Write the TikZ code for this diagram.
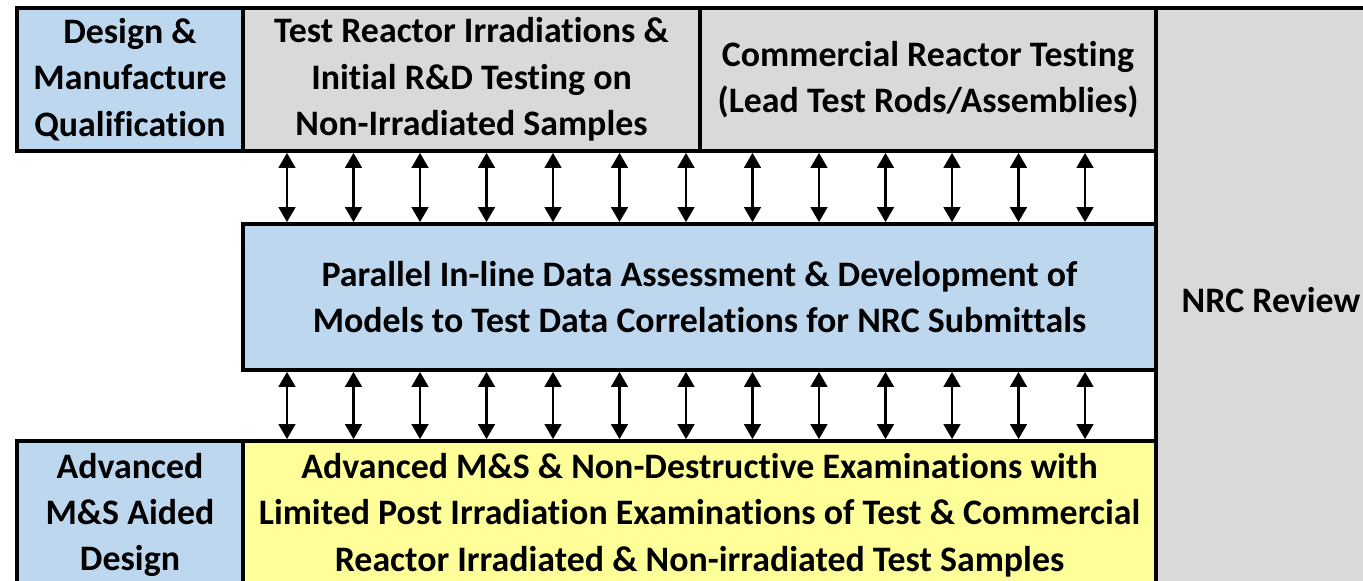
\documentclass[tikz,border=0pt]{standalone}
\usepackage{fontspec}
\setmainfont{Carlito}[Ligatures=NoCommon]
\usetikzlibrary{arrows.meta}
\definecolor{boxblue}{HTML}{BDD7EE}
\definecolor{boxgray}{HTML}{D9D9D9}
\definecolor{boxyellow}{HTML}{FFFF99}

\begin{document}
\begin{tikzpicture}[x=0.75pt,y=-0.75pt,
  box/.style={draw,line width=2.8pt,anchor=north west,outer sep=0pt,inner sep=0pt,align=center,font=\fontsize{26.9}{34.8}\selectfont\bfseries},
  link/.style={line width=2pt,shorten >=1.4pt,shorten <=1.4pt,{Triangle[width=12.5pt,length=11.3pt]}-{Triangle[width=12.5pt,length=11.3pt]}}]
\useasboundingbox (0,0) rectangle (1363,581);

\node[box,fill=boxblue,minimum width=169.5pt,minimum height=107.25pt] (design) at (17,8) {Design \&\\Manufacture\\Qualification};
\node[box,fill=boxgray,minimum width=342.75pt,minimum height=107.25pt] (testr) at (design.north east) {Test Reactor Irradiations \&\\Initial R\&D Testing on\\Non-Irradiated Samples};
\node[box,fill=boxgray,minimum width=342pt,minimum height=107.25pt] (comm) at (testr.north east) {Commercial Reactor Testing\\(Lead Test Rods/Assemblies)};
\node[box,fill=boxgray,minimum width=172.5pt,minimum height=438pt] (nrc) at (comm.north east) {NRC Review};

\node[box,fill=boxblue,minimum width=684.75pt,minimum height=109.5pt] (assess) at ([yshift=-54.75pt]testr.south west) {Parallel In-line Data Assessment \& Development of\\Models to Test Data Correlations for NRC Submittals};

\node[box,fill=boxblue,minimum width=169.5pt,minimum height=111pt] (aided) at (17,441) {Advanced\\M\&S Aided\\Design};
\node[box,fill=boxyellow,minimum width=684.75pt,minimum height=111pt] (exams) at (aided.north east) {Advanced M\&S \& Non-Destructive Examinations with\\Limited Post Irradiation Examinations of Test \& Commercial\\Reactor Irradiated \& Non-irradiated Test Samples};

\foreach \i in {0,...,12}{
  \coordinate (t\i) at ([xshift={(44+66.5*\i)*0.75pt}]assess.north west);
  \coordinate (b\i) at ([xshift={(44+66.5*\i)*0.75pt}]assess.south west);
  \draw[link] (t\i |- testr.south) -- (t\i);
  \draw[link] (b\i) -- (b\i |- exams.north);
}
\end{tikzpicture}
\end{document}
